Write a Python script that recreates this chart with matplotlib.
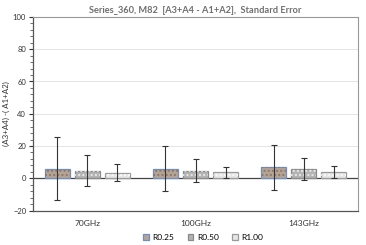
import numpy as np
import matplotlib.pyplot as plt
from matplotlib.ticker import MultipleLocator

plt.rcParams["font.family"] = ["Lato", "DejaVu Sans"]

categories = ["70GHz", "100GHz", "143GHz"]
series_names = ["R0.25", "R0.50", "R1.00"]
r025 = [6.0, 6.0, 6.8]
r050 = [4.7, 4.7, 5.6]
r100 = [3.5, 3.6, 3.9]
err025 = [19.6, 13.9, 13.8]
err050 = [9.8, 7.2, 6.8]
err100 = [5.3, 3.6, 3.7]

values = [r025, r050, r100]
errors = [err025, err050, err100]
faces = ["#b5a496", "#b3b3b3", "#e6e6e6"]
edges = ["#6f8fc0", "#8a8a8a", "#9a9a9a"]
hatch_cols = ["#8c7868", "#e8e8e8", "#f8f8f8"]

fig = plt.figure(figsize=(3.66, 2.45), dpi=100)
ax = fig.add_axes([33 / 366, 1 - 210.5 / 245, 325 / 366, 193.5 / 245])

x = np.arange(len(categories)) + 0.5
w = 0.23
step = 0.277
for i, (vals, errs) in enumerate(zip(values, errors)):
    pos = x + (i - 1) * step
    ax.bar(pos, vals, width=w, color=faces[i], edgecolor=edges[i],
           linewidth=0.9, label=series_names[i], zorder=3)
    ax.bar(pos, vals, width=w, color="none", edgecolor=hatch_cols[i],
           linewidth=0, hatch="....", zorder=3)
    ax.errorbar(pos, vals, yerr=errs, fmt="none", ecolor="#333333",
                elinewidth=0.8, capsize=2, capthick=0.8, zorder=4)

ax.axhline(0, color="#444444", linewidth=0.9, zorder=2)
ax.set_xlim(0, 3)
ax.set_ylim(-20, 100)
ax.set_xticks(x)
ax.set_xticklabels(categories, fontsize=6, color="#333333")
ax.tick_params(axis="x", length=0, pad=7)
ax.yaxis.set_major_locator(MultipleLocator(20))
ax.yaxis.set_minor_locator(MultipleLocator(4))
ax.tick_params(axis="y", which="major", labelsize=5.5, length=3,
               colors="#333333", pad=2)
ax.tick_params(axis="y", which="minor", length=2, color="#555555")
ax.grid(axis="y", color="#e4e4e4", linewidth=0.7, zorder=0)
for s in ["top", "right"]:
    ax.spines[s].set_color("#999999")
    ax.spines[s].set_linewidth(0.8)
for s in ["left", "bottom"]:
    ax.spines[s].set_color("#555555")
    ax.spines[s].set_linewidth(0.9)

ax.set_ylabel("(A3+A4) -( A1+A2)", fontsize=5.8, color="#333333")
ax.yaxis.set_label_coords(-0.071, 0.5)
ax.set_title("Series_360, M82  [A3+A4 - A1+A2],  Standard Error",
             fontsize=6.7, color="#6f6f6f", fontweight="bold", pad=3)

handles, labels = ax.get_legend_handles_labels()
fig.legend(handles, labels, loc="center", bbox_to_anchor=(0.555, 1 - 237 / 245),
           ncol=3, frameon=False, fontsize=6, handlelength=0.7,
           handleheight=0.7, columnspacing=1.6, handletextpad=0.4)

fig.savefig("out.png", dpi=100)
